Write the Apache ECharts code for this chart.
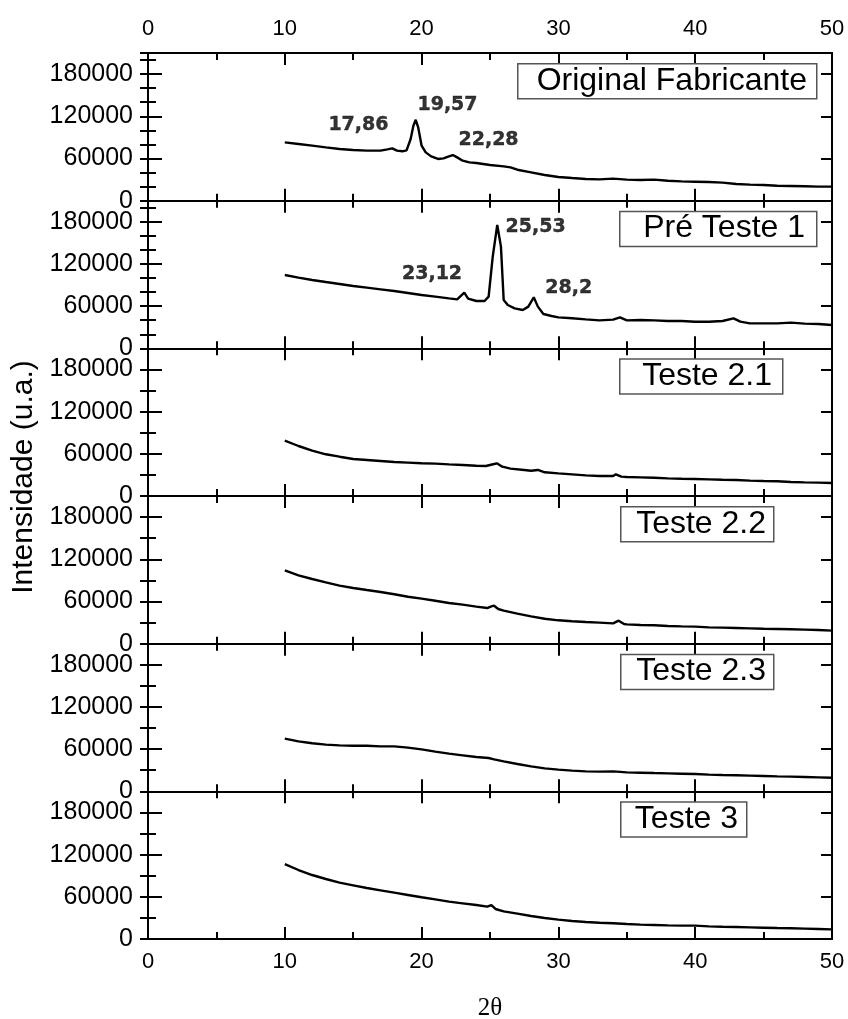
<!DOCTYPE html>
<html>
<head>
<meta charset="utf-8">
<script src="https://cdn.jsdelivr.net/npm/echarts@6/dist/echarts.min.js"></script>
<style>
  html, body { margin: 0; padding: 0; background: #fff; }
  #chart { width: 848px; height: 1019px; }
</style>
</head>
<body>
<div id="chart"></div>
<script>
// painel names (top to bottom)
const panelNames = ['Original Fabricante', 'Pré Teste 1', 'Teste 2.1', 'Teste 2.2', 'Teste 2.3', 'Teste 3'];
const yTickLabels = [0, 60000, 120000, 180000];
const xTickLabels = [0, 10, 20, 30, 40, 50];

// [2θ, intensidade]
const originalFabricante = [[10,82950],[11,80600],[12,78200],[13,75800],[14,73500],[15,72000],[16,71100],[17,71100],[17.5,73000],[17.86,74400],[18.2,71100],[18.6,70200],[18.9,71500],[19.2,87700],[19.4,106600],[19.57,115000],[19.75,104300],[20.0,78200],[20.3,68700],[20.7,63000],[21.2,59300],[21.6,60200],[22.0,63000],[22.28,64900],[22.6,61600],[23.0,56900],[23.5,54500],[24,53600],[25,50700],[26,48800],[26.5,47400],[27,44000],[28,40300],[29,36500],[30,33700],[31,32200],[32,30800],[33,30300],[34,31300],[35,29900],[36,29400],[37,29900],[38,28400],[39,27500],[40,27000],[41,26500],[42,25600],[43,23700],[44,22800],[45,22300],[46,21300],[47,20900],[48,20400],[49,19900],[50,19900]];
const preTeste1 = [[10,104300],[11,100500],[12,97200],[13,94300],[14,91500],[15,88600],[16,86300],[17,83900],[18,81500],[19,78700],[20,75800],[21,73500],[22,71100],[22.6,69700],[23.12,79200],[23.4,70600],[24,67300],[24.6,67300],[24.9,73500],[25.2,130400],[25.53,175500],[25.8,144600],[26.0,68700],[26.3,61600],[26.8,56900],[27.4,54500],[27.8,59300],[28.2,72500],[28.5,59300],[28.9,48800],[29.5,46000],[30,44100],[31,42700],[32,41200],[33,39800],[34,40800],[34.5,44100],[35,39800],[36,40300],[37,39800],[38,38900],[39,38900],[40,37900],[41,37900],[42,38900],[42.8,42700],[43.3,37900],[44,35500],[45,35500],[46,35500],[47,36500],[48,35100],[49,34600],[50,33200]];
const teste21 = [[10,78700],[11,71100],[12,64500],[13,59300],[14,55900],[15,52600],[16,51200],[17,49800],[18,48300],[19,47400],[20,46500],[21,46000],[22,45000],[23,44100],[24,43100],[24.7,42700],[25.3,45500],[25.5,46500],[25.9,41700],[26.5,38900],[27.5,37000],[28,36000],[28.5,37000],[29,33700],[30,32200],[31,30800],[32,29400],[33,28400],[34,28400],[34.2,30800],[34.6,27500],[35,27000],[36,26500],[37,26000],[38,25100],[39,24600],[40,24200],[41,23700],[42,23200],[43,22800],[44,21800],[45,21300],[46,20900],[47,19900],[48,19400],[49,19000],[50,18500]];
const teste22 = [[10,104300],[11,97200],[12,92000],[13,87200],[14,82500],[15,79200],[16,76300],[17,73500],[18,70200],[19,66800],[20,64000],[21,61100],[22,57800],[23,55500],[24,52600],[24.8,50700],[25.1,53100],[25.3,54000],[25.6,49300],[26,46900],[27,42700],[28,38900],[29,35500],[30,33200],[31,31800],[32,30800],[33,29900],[34,28900],[34.4,32700],[34.8,28000],[35,27500],[36,26500],[37,26100],[38,25100],[39,24600],[40,24200],[41,23200],[42,22800],[43,22300],[44,21800],[45,21300],[46,20900],[47,20400],[48,19900],[49,19400],[50,18500]];
const teste23 = [[10,74900],[11,71100],[12,68300],[13,66400],[14,65400],[15,64900],[16,64900],[17,64000],[18,64000],[19,62100],[20,59700],[21,56400],[22,53600],[23,51200],[24,48800],[24.9,47400],[25.3,45500],[26,42700],[27,38900],[28,35500],[29,32700],[30,30800],[31,29400],[32,28400],[33,28000],[34,28400],[35,27000],[36,26500],[37,26000],[38,25600],[39,25100],[40,24600],[41,23700],[42,23200],[43,22800],[44,22300],[45,21800],[46,21300],[47,20900],[48,20400],[49,19900],[50,19400]];
const teste3 = [[10,106600],[11,98100],[12,91000],[13,85300],[14,80100],[15,76300],[16,72500],[17,69200],[18,65900],[19,62600],[20,59300],[21,56400],[22,53100],[23,50700],[24,48300],[24.8,46000],[25.1,48300],[25.4,42700],[26,39300],[27,36000],[28,32700],[29,29900],[30,27500],[31,25600],[32,24200],[33,23200],[34,22300],[35,21300],[36,20400],[37,19900],[38,19400],[39,19000],[40,19000],[41,18000],[42,17500],[43,17100],[44,16600],[45,16100],[46,15600],[47,15200],[48,14700],[49,14200],[50,13700]];
const panelData = [originalFabricante, preTeste1, teste21, teste22, teste23, teste3];

// peak labels: [panel, 2θ, intensidade, texto]
const peakLabels = [
  [0, 13.15, 107400, '17,86'],
  [0, 19.66, 136000, '19,57'],
  [0, 22.66, 86000, '22,28'],
  [1, 18.53, 105200, '23,12'],
  [1, 26.1, 173000, '25,53'],
  [1, 29.0, 85300, '28,2']
];

// legend box layout: [left, right, textRight] in px
const boxLayout = [[517, 816, 807], [619, 816, 805], [619, 782, 772], [620, 773, 766], [620, 773, 766], [620, 746, 738]];
const minorStep = [20000, 20000, 30000, 30000, 30000, 30000];

const chart = echarts.init(document.getElementById('chart'));
const LEFT = 148, RIGHT = 832, TOP = 53, BOTTOM = 939;
const H = (BOTTOM - TOP) / panelNames.length;
const font = 'Liberation Sans, Arial, sans-serif';

const grids = [], xAxes = [], yAxes = [], series = [], graphics = [];

panelNames.forEach((name, k) => {
  const top = TOP + k * H;
  grids.push({ left: LEFT, top: top, width: RIGHT - LEFT, height: H, outerBoundsMode: 'none', containLabel: false });
  const xBase = {
    type: 'value', gridIndex: k, min: 0, max: 50, interval: 10,
    axisLine: { show: true, onZero: false, lineStyle: { color: '#000', width: 2 } },
    axisTick: { inside: true, length: 12, lineStyle: { color: '#000', width: 2 } },
    minorTick: { show: true, splitNumber: 2, length: 7, lineStyle: { color: '#000', width: 2 } },
    splitLine: { show: false }
  };
  xAxes.push(Object.assign({}, xBase, {
    position: 'bottom',
    axisLabel: { show: k === panelNames.length - 1, fontFamily: font, fontSize: 22, color: '#000', margin: 12 },
    name: k === panelNames.length - 1 ? '2θ' : '',
    nameLocation: 'middle', nameGap: 57,
    nameTextStyle: { fontFamily: 'Liberation Serif, Times New Roman, serif', fontSize: 25, color: '#000' }
  }));
  xAxes.push(Object.assign({}, xBase, {
    position: 'top',
    axisLabel: { show: k === 0, fontFamily: font, fontSize: 22, color: '#000', margin: 13 }
  }));
  ['left', 'right'].forEach(pos => {
    yAxes.push({
      type: 'value', gridIndex: k, position: pos, min: 0, max: 210000, interval: 60000,
      axisLine: { show: true, onZero: false, lineStyle: { color: '#000', width: 2 } },
      axisTick: { inside: true, length: pos === 'left' ? 14 : 11, lineStyle: { color: '#000', width: 2 } },
      axisLabel: {
        show: pos === 'left', fontFamily: font, fontSize: 25, color: '#000', margin: 15,
        formatter: v => (yTickLabels.indexOf(v) >= 0 ? String(v) : '')
      },
      splitLine: { show: false }
    });
    yAxes.push({
      type: 'value', gridIndex: k, position: pos, min: 0, max: 210000, interval: minorStep[k],
      axisLine: { show: false },
      axisTick: { inside: true, length: 8, lineStyle: { color: '#000', width: 2 } },
      axisLabel: { show: false },
      splitLine: { show: false }
    });
  });
  series.push({
    type: 'line', name: name, xAxisIndex: 2 * k, yAxisIndex: 4 * k,
    data: panelData[k], showSymbol: false, symbol: 'none',
    lineStyle: { color: '#000', width: 2.4 }, z: 3
  });
  const b = boxLayout[k];
  graphics.push({
    type: 'rect', left: b[0], top: top + 10,
    shape: { width: b[1] - b[0], height: 35 },
    style: { fill: '#fff', stroke: '#555', lineWidth: 1.5 }, z: 10
  });
  graphics.push({
    type: 'text', x: b[2], y: top + 28, z: 11,
    style: { text: name, fontFamily: font, fontSize: 32, fill: '#000', align: 'right', verticalAlign: 'middle' }
  });
});

[0, 1].forEach(k => {
  series.push({
    type: 'scatter', xAxisIndex: 2 * k, yAxisIndex: 4 * k, symbolSize: 1,
    itemStyle: { color: 'rgba(0,0,0,0)' },
    data: peakLabels.filter(p => p[0] === k).map(p => ({ value: [p[1], p[2]], name: p[3] })),
    label: {
      show: true, position: 'right', distance: 0, formatter: '{b}',
      fontFamily: 'DejaVu Sans, Verdana, sans-serif', fontWeight: 'bold', fontSize: 19, color: '#000',
      textBorderColor: '#000', textBorderWidth: 0.4
    },
    z: 4
  });
});

graphics.push({
  type: 'text', x: 24, y: 477, rotation: Math.PI / 2,
  style: { text: 'Intensidade (u.a.)', fontFamily: font, fontSize: 30, fill: '#000', align: 'center', verticalAlign: 'middle' }
});

chart.setOption({
  animation: false,
  backgroundColor: '#fff',
  grid: grids,
  xAxis: xAxes,
  yAxis: yAxes,
  series: series,
  graphic: graphics
});
window.onresize = function () { chart.resize(); };
</script>
</body>
</html>
